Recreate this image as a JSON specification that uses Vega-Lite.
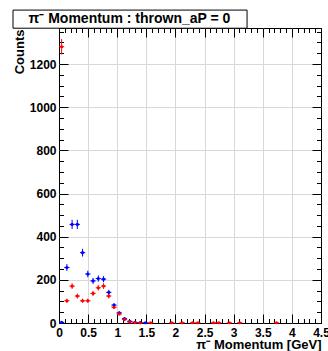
{
  "$schema": "https://vega.github.io/schema/vega-lite/v6.json",
  "width": 262,
  "height": 295,
  "autosize": "none",
  "padding": {"left": 59, "top": 28, "right": 7, "bottom": 28},
  "background": "white",
  "config": {
    "view": {"stroke": "#000000", "strokeWidth": 1},
    "font": "Liberation Sans",
    "axis": {"domain": false, "labelFont": "Liberation Sans", "labelFontWeight": "bold", "labelFontSize": 12, "labelColor": "#000", "titleFont": "Liberation Sans", "titleFontWeight": "bold", "titleFontSize": 13, "titleColor": "#000", "tickColor": "#000", "gridColor": "#d8d8d8", "gridWidth": 1}
  },
  "datasets": {
    "h": [
      {"p": 0.045, "n": 3, "s": "blue"},
      {"p": 0.135, "n": 257, "s": "blue"},
      {"p": 0.225, "n": 457, "s": "blue"},
      {"p": 0.315, "n": 457, "s": "blue"},
      {"p": 0.405, "n": 326, "s": "blue"},
      {"p": 0.495, "n": 227, "s": "blue"},
      {"p": 0.585, "n": 195, "s": "blue"},
      {"p": 0.675, "n": 206, "s": "blue"},
      {"p": 0.765, "n": 203, "s": "blue"},
      {"p": 0.855, "n": 142, "s": "blue"},
      {"p": 0.945, "n": 83, "s": "blue"},
      {"p": 1.035, "n": 47, "s": "blue"},
      {"p": 1.125, "n": 20, "s": "blue"},
      {"p": 1.215, "n": 8, "s": "blue"},
      {"p": 1.305, "n": 3, "s": "blue"},
      {"p": 1.395, "n": 2, "s": "blue"},
      {"p": 1.485, "n": 1, "s": "blue"},
      {"p": 0.045, "n": 1280, "s": "red"},
      {"p": 0.135, "n": 103, "s": "red"},
      {"p": 0.225, "n": 171, "s": "red"},
      {"p": 0.315, "n": 125, "s": "red"},
      {"p": 0.405, "n": 103, "s": "red"},
      {"p": 0.495, "n": 103, "s": "red"},
      {"p": 0.585, "n": 137, "s": "red"},
      {"p": 0.675, "n": 163, "s": "red"},
      {"p": 0.765, "n": 171, "s": "red"},
      {"p": 0.855, "n": 125, "s": "red"},
      {"p": 0.945, "n": 73, "s": "red"},
      {"p": 1.035, "n": 42, "s": "red"},
      {"p": 1.125, "n": 16, "s": "red"},
      {"p": 1.215, "n": 5, "s": "red"},
      {"p": 1.305, "n": 2, "s": "red"},
      {"p": 1.395, "n": 1, "s": "red"},
      {"p": 1.575, "n": 1, "s": "red"},
      {"p": 1.935, "n": 1, "s": "red"},
      {"p": 2.115, "n": 1, "s": "red"},
      {"p": 2.295, "n": 1, "s": "red"},
      {"p": 2.385, "n": 1, "s": "red"},
      {"p": 2.655, "n": 1, "s": "red"},
      {"p": 2.745, "n": 1, "s": "red"},
      {"p": 2.925, "n": 1, "s": "red"},
      {"p": 3.105, "n": 1, "s": "red"},
      {"p": 3.735, "n": 1, "s": "red"}
    ]
  },
  "layer": [
    {
      "data": {"name": "h"},
      "transform": [
        {"calculate": "datum.n - sqrt(datum.n)", "as": "lo"},
        {"calculate": "datum.n + sqrt(datum.n)", "as": "hi"}
      ],
      "mark": {"type": "rule", "strokeWidth": 1},
      "encoding": {
        "x": {"field": "p", "type": "quantitative", "scale": {"domain": [0, 4.5], "nice": false, "zero": false},
          "axis": {"orient": "bottom", "title": "π⁻ Momentum [GeV]", "titleAnchor": "end", "titleAlign": "right", "titleBaseline": "alphabetic", "titleY": 25.5, "titleX": 262,
            "values": [0,0.1,0.2,0.3,0.4,0.5,0.6,0.7,0.8,0.9,1,1.1,1.2,1.3,1.4,1.5,1.6,1.7,1.8,1.9,2,2.1,2.2,2.3,2.4,2.5,2.6,2.7,2.8,2.9,3,3.1,3.2,3.3,3.4,3.5,3.6,3.7,3.8,3.9,4,4.1,4.2,4.3,4.4,4.5],
            "labelExpr": "abs(datum.value*2 - round(datum.value*2)) < 0.001 ? toString(round(datum.value*2)/2) : ''",
            "labelPadding": 13, "labelFlush": false, "labelOverlap": false,
            "tickSize": {"condition": {"test": "abs(datum.value*2 - round(datum.value*2)) < 0.001", "value": -9}, "value": -4.5},
            "gridOpacity": {"condition": {"test": "abs(datum.value*2 - round(datum.value*2)) < 0.001 && datum.value > 0.01 && datum.value < 4.49", "value": 1}, "value": 0}}},
        "y": {"field": "lo", "type": "quantitative", "scale": {"domain": [0, 1367], "nice": false},
          "axis": {"orient": "left", "title": "Counts", "titleAnchor": "end", "titleAlign": "right", "titleAngle": -90, "titleBaseline": "middle", "titleX": -40, "titleY": 1,
            "values": [0,50,100,150,200,250,300,350,400,450,500,550,600,650,700,750,800,850,900,950,1000,1050,1100,1150,1200,1250,1300,1350],
            "labelExpr": "datum.value % 200 == 0 ? toString(datum.value) : ''",
            "labelPadding": 12, "labelOverlap": false, "labelFlush": false,
            "tickSize": {"condition": {"test": "datum.value % 200 == 0", "value": -9}, "value": -4.5},
            "gridOpacity": {"condition": {"test": "datum.value % 200 == 0 && datum.value > 0", "value": 1}, "value": 0}}},
        "y2": {"field": "hi"},
        "color": {"field": "s", "type": "nominal", "scale": {"domain": ["blue", "red"], "range": ["#0000ff", "#ff0000"]}, "legend": null}
      }
    },
    {
      "data": {"name": "h"},
      "transform": [
        {"calculate": "datum.p - 0.045", "as": "p0"},
        {"calculate": "datum.p + 0.045", "as": "p1"}
      ],
      "mark": {"type": "rule", "strokeWidth": 1},
      "encoding": {
        "x": {"field": "p0", "type": "quantitative",
          "axis": {"orient": "top", "title": null, "labels": false, "grid": false,
            "values": [0,0.1,0.2,0.3,0.4,0.5,0.6,0.7,0.8,0.9,1,1.1,1.2,1.3,1.4,1.5,1.6,1.7,1.8,1.9,2,2.1,2.2,2.3,2.4,2.5,2.6,2.7,2.8,2.9,3,3.1,3.2,3.3,3.4,3.5,3.6,3.7,3.8,3.9,4,4.1,4.2,4.3,4.4,4.5],
            "tickSize": {"condition": {"test": "abs(datum.value*2 - round(datum.value*2)) < 0.001", "value": -9}, "value": -4.5}}},
        "x2": {"field": "p1"},
        "y": {"field": "n", "type": "quantitative",
          "axis": {"orient": "right", "title": null, "labels": false, "grid": false,
            "values": [0,50,100,150,200,250,300,350,400,450,500,550,600,650,700,750,800,850,900,950,1000,1050,1100,1150,1200,1250,1300,1350],
            "tickSize": {"condition": {"test": "datum.value % 200 == 0", "value": -9}, "value": -4.5}}},
        "color": {"field": "s", "type": "nominal", "legend": null}
      }
    },
    {
      "data": {"name": "h"},
      "mark": {"type": "circle", "size": 10, "opacity": 1},
      "encoding": {
        "x": {"field": "p", "type": "quantitative", "axis": null},
        "y": {"field": "n", "type": "quantitative", "axis": null},
        "color": {"field": "s", "type": "nominal", "legend": null}
      }
    },
    {
      "data": {"values": [{"label": "π⁻ Momentum : thrown_aP = 0"}]},
      "mark": {"type": "rect", "fill": "white", "stroke": "black", "strokeWidth": 1, "clip": false},
      "encoding": {
        "x": {"datum": -0.79, "type": "quantitative", "axis": null},
        "x2": {"datum": 3.23},
        "y": {"datum": 1366, "type": "quantitative", "axis": null},
        "y2": {"datum": 1450}
      }
    },
    {
      "data": {"values": [{"label": "π⁻ Momentum : thrown_aP = 0"}]},
      "mark": {"type": "text", "font": "Liberation Sans", "fontWeight": "bold", "fontSize": 14, "align": "center", "baseline": "middle", "clip": false, "color": "black"},
      "encoding": {
        "x": {"datum": 1.21, "type": "quantitative", "axis": null},
        "y": {"datum": 1408, "type": "quantitative", "axis": null},
        "text": {"field": "label", "type": "nominal"}
      }
    }
  ],
  "resolve": {"axis": {"x": "independent", "y": "independent"}}
}
